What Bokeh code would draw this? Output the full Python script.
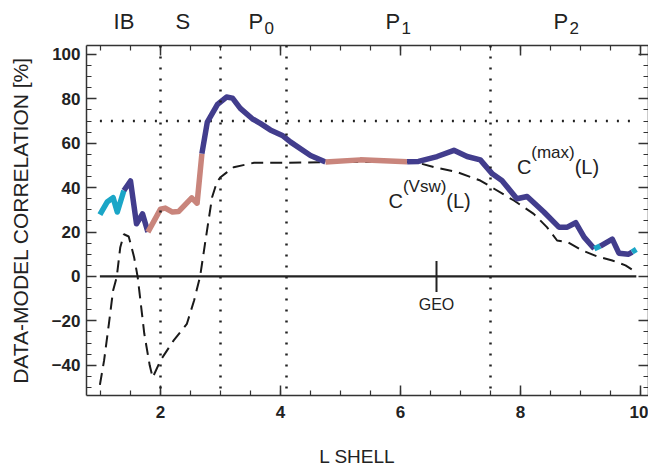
from bokeh.plotting import figure
from bokeh.layouts import column
from bokeh.models import (Range1d, LinearAxis, SingleIntervalTicker, Span, Label,
                          CustomJSTickFormatter)
from bokeh.core.properties import value
from bokeh.embed import file_html
from bokeh.resources import INLINE

# ---------------- data ----------------
L_max = [0.99, 1.11, 1.21, 1.28, 1.39, 1.50, 1.60, 1.70, 1.79, 2.00,
         2.08, 2.20, 2.30, 2.52, 2.61, 2.69, 2.78, 2.95, 3.10, 3.20,
         3.33, 3.53, 3.67, 3.83, 4.03, 4.17, 4.50, 4.75, 5.33, 6.11,
         6.30, 6.61, 6.89, 7.11, 7.33, 7.53, 7.69, 7.94, 8.11, 8.39,
         8.64, 8.78, 8.92, 9.06, 9.23, 9.33, 9.53, 9.64, 9.80, 9.86, 9.93]
C_max = [27.8, 33.5, 35.5, 29.0, 38.7, 43.0, 23.7, 28.2, 20.0, 30.3,
         30.8, 29.0, 29.2, 35.4, 33.0, 55.3, 69.5, 77.5, 80.8, 80.3,
         75.7, 71.0, 68.8, 66.0, 63.5, 60.5, 54.5, 51.5, 52.5, 51.6,
         51.8, 54.0, 56.8, 54.0, 52.5, 46.2, 43.2, 35.0, 36.0, 29.0,
         22.2, 22.2, 24.2, 17.7, 12.5, 13.7, 16.8, 10.5, 10.0, 11.0, 12.2]
# class of each segment between consecutive points: c = cyan, b = blue, p = pink
C_max_class = list("ccccbbbbpppppppbbbbbbbbbbbbppbbbbbbbbbbbbbbbcbbbbc")

L_vsw = [0.99, 1.06, 1.14, 1.21, 1.27, 1.33, 1.39, 1.47, 1.56, 1.62,
         1.73, 1.82, 1.87, 2.00, 2.22, 2.44, 2.56, 2.66, 2.75, 2.86,
         2.94, 3.00, 3.11, 3.22, 3.56, 4.11, 4.83, 5.50, 6.25, 6.56,
         6.94, 7.33, 7.56, 7.89, 8.22, 8.44, 8.61, 8.78, 9.03, 9.28,
         9.53, 9.75, 9.92]
C_vsw = [-48.8, -37.8, -21.3, -6.3, -0.3, 13.2, 19.0, 18.0, 8.7, -0.3,
         -25.8, -40.0, -45.5, -37.8, -28.8, -21.3, -10.8, 0.0, 16.2, 35.7,
         42.5, 44.7, 47.0, 49.2, 51.2, 51.2, 51.5, 51.5, 51.5, 49.2,
         47.0, 43.2, 39.5, 34.2, 28.2, 22.2, 16.2, 15.5, 11.7, 9.0,
         7.2, 5.0, 2.0]

region_bounds = [2.0, 3.0, 4.1, 7.5]
region_names = ["IB", "S", "P", "P", "P"]
region_subs = ["", "", "0", "1", "2"]
region_label_x = [1.217, 2.25, 3.467, 5.75, 8.55]
threshold = 70
geo_L = 6.6
geo_half = 7
x_title = "L SHELL"
x_title_pos = 5.28
y_title = "DATA-MODEL CORRELATION [%]"

COLORS = {"c": "#1ba6c7", "b": "#423d8d", "p": "#c9857c"}
INK = "#222222"
FONT = "Liberation Sans"

x_range = Range1d(0.7667, 10.1333)


def strip(height):
    return figure(width=648, height=height, output_backend="svg",
                  toolbar_location=None, title=None, x_range=x_range,
                  y_range=Range1d(0, height), x_axis_type=None, y_axis_type=None,
                  min_border_left=86, min_border_right=0, min_border_top=0,
                  min_border_bottom=0, outline_line_color=None,
                  background_fill_color="white", border_fill_color="white")


# ---------- strip with region names above the frame ----------
top = strip(44)
top.text(x=region_label_x, y=[22.7] * len(region_names), text=region_names,
         text_align="left", text_baseline="alphabetic",
         text_font=value(FONT), text_font_size="22px", text_color=INK)
sub_x = [x for x, s in zip(region_label_x, region_subs) if s]
sub_t = [s for s in region_subs if s]
top.text(x=sub_x, y=[17.0] * len(sub_x), text=sub_t, x_offset=16,
         text_align="left", text_baseline="alphabetic",
         text_font=value(FONT), text_font_size="17px", text_color=INK)

# ---------- main plot ----------
p = figure(width=648, height=400, output_backend="svg", toolbar_location=None,
           title=None, x_range=x_range, y_range=Range1d(-53.6, 104),
           x_axis_type=None, y_axis_type=None,
           min_border_left=86, min_border_right=0, min_border_top=1,
           min_border_bottom=49, outline_line_color=None,
           background_fill_color="white", border_fill_color="white")

minus_fmt = CustomJSTickFormatter(code="return tick < 0 ? '\u2212' + Math.abs(tick) : '' + tick;")
blank_fmt = CustomJSTickFormatter(code="return '';")


def style_axis(ax, labels):
    ax.major_tick_in = 10
    ax.major_tick_out = 0
    ax.minor_tick_in = 5
    ax.minor_tick_out = 0
    ax.axis_line_color = "#333333"
    ax.axis_line_width = 1.5
    ax.major_tick_line_color = "#333333"
    ax.major_tick_line_width = 1.5
    ax.minor_tick_line_color = "#333333"
    ax.minor_tick_line_width = 1.2
    ax.major_label_text_font = FONT
    ax.major_label_text_font_size = "17px"
    ax.major_label_text_font_style = "bold"
    ax.major_label_text_color = INK
    ax.axis_label_text_font = FONT
    ax.axis_label_text_font_style = "normal"
    ax.axis_label_text_color = INK
    if not labels:
        ax.formatter = blank_fmt
        ax.major_label_standoff = 0


xb = LinearAxis(ticker=SingleIntervalTicker(interval=2, num_minor_ticks=4))
style_axis(xb, True)
xb.major_label_standoff = 10
p.add_layout(xb, "below")

xt = LinearAxis(ticker=SingleIntervalTicker(interval=2, num_minor_ticks=4))
style_axis(xt, False)
p.add_layout(xt, "above")

yl = LinearAxis(ticker=SingleIntervalTicker(interval=20, num_minor_ticks=4),
                axis_label=y_title, formatter=minus_fmt)
style_axis(yl, True)
yl.major_label_standoff = 6
yl.axis_label_standoff = 17
yl.axis_label_text_font_size = "21px"
p.add_layout(yl, "left")

yr = LinearAxis(ticker=SingleIntervalTicker(interval=20, num_minor_ticks=4))
style_axis(yr, False)
p.add_layout(yr, "right")

# dotted region boundaries
for b in region_bounds:
    p.add_layout(Span(location=b, dimension="height", line_color=INK,
                      line_width=2.5, line_dash="2 9"))

# threshold dotted line and zero line across the data extent
p.line([L_max[0], L_max[-1]], [threshold, threshold], line_color=INK,
       line_width=2.5, line_dash="2 9")
p.line([L_max[0], L_max[-1]], [0, 0], line_color=INK, line_width=2.2)

# GEO marker
p.segment(x0=[geo_L], y0=[-geo_half], x1=[geo_L], y1=[geo_half],
          line_color=INK, line_width=2)
p.add_layout(Label(x=geo_L, y=-geo_half - 2, text="GEO", text_align="center",
                   text_baseline="top", text_font=FONT, text_font_size="16px",
                   text_color=INK))

# C^(Vsw) dashed curve
p.line(L_vsw, C_vsw, line_color="#1a1a1a", line_width=2, line_dash="12 7")

# C^(max) coloured thick curve, drawn run by run
start = 0
for i in range(1, len(C_max_class) + 1):
    if i == len(C_max_class) or C_max_class[i] != C_max_class[start]:
        p.line(L_max[start:i + 1], C_max[start:i + 1],
               line_color=COLORS[C_max_class[start]], line_width=5.5,
               line_join="round", line_cap="butt")
        start = i


def curve_label(x, y, sup):
    p.add_layout(Label(x=x, y=y, text="C", text_align="left",
                       text_baseline="alphabetic", text_font=FONT,
                       text_font_size="20px", text_color=INK))
    p.add_layout(Label(x=x, y=y, x_offset=14.4, y_offset=14, text=sup,
                       text_align="left", text_baseline="alphabetic",
                       text_font=FONT, text_font_size="17px", text_color=INK))
    p.add_layout(Label(x=x, y=y, x_offset=57.8, text="(L)", text_align="left",
                       text_baseline="alphabetic", text_font=FONT,
                       text_font_size="20px", text_color=INK))


curve_label(7.94, 49.5, "(max)")
curve_label(5.80, 34.2, "(Vsw)")

# ---------- strip with the x-axis title ----------
bottom = strip(24)
bottom.text(x=[x_title_pos], y=[12.5], text=[x_title], text_align="center",
            text_baseline="alphabetic", text_font=value(FONT),
            text_font_size="19px", text_color=INK)

layout = column(top, p, bottom, spacing=0)
open("out.html", "w").write(file_html(layout, INLINE))
